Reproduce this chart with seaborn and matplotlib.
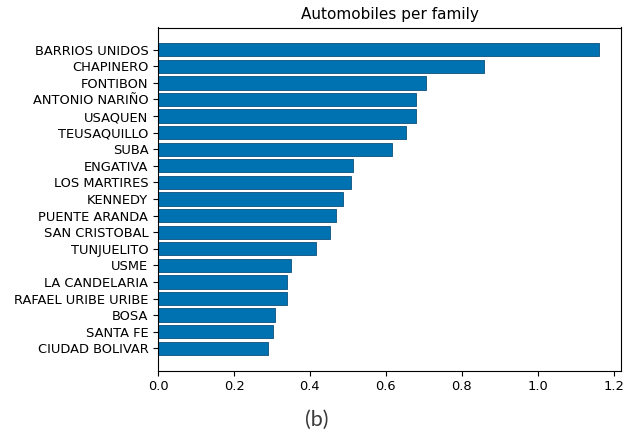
import matplotlib
matplotlib.use("Agg")
import matplotlib.pyplot as plt
import seaborn as sns
import pandas as pd

# Average number of automobiles per family, by locality (Bogotá)
localities = [
    "BARRIOS UNIDOS", "CHAPINERO", "FONTIBON", "ANTONIO NARIÑO", "USAQUEN",
    "TEUSAQUILLO", "SUBA", "ENGATIVA", "LOS MARTIRES", "KENNEDY",
    "PUENTE ARANDA", "SAN CRISTOBAL", "TUNJUELITO", "USME", "LA CANDELARIA",
    "RAFAEL URIBE URIBE", "BOSA", "SANTA FE", "CIUDAD BOLIVAR",
]
cars_per_family = [
    1.161, 0.858, 0.706, 0.678, 0.678,
    0.654, 0.616, 0.513, 0.508, 0.487,
    0.469, 0.454, 0.417, 0.351, 0.340,
    0.339, 0.309, 0.302, 0.289,
]

df = pd.DataFrame({"locality": localities, "cars": cars_per_family})

fig = plt.figure(figsize=(6.34, 4.37), dpi=100)
ax = fig.add_axes([158 / 634, 1 - 370.5 / 437, (621 - 158) / 634, (370.5 - 27.5) / 437])

sns.barplot(
    data=df, x="cars", y="locality", orient="h",
    color="#0072B2", saturation=1, width=0.8,
    edgecolor="#0b4f7a", linewidth=0.6, ax=ax,
)

n = len(localities)
pad = 0.05 * (n - 1 + 0.8)
ax.set_ylim(n - 1 + 0.4 + pad, -0.4 - pad)
ax.set_xlim(0, max(cars_per_family) * 1.05)
ax.set_xticks([0.0, 0.2, 0.4, 0.6, 0.8, 1.0, 1.2])
ax.set_xlabel("")
ax.set_ylabel("")
ax.tick_params(labelsize=9.4)
ax.set_title("Automobiles per family", fontsize=11)

fig.text(0.5, 1 - 420 / 437, "(b)", ha="center", va="center",
         fontsize=15.5, color="#3a3a3a", family="Lato")

fig.savefig("out.png", dpi=100)
